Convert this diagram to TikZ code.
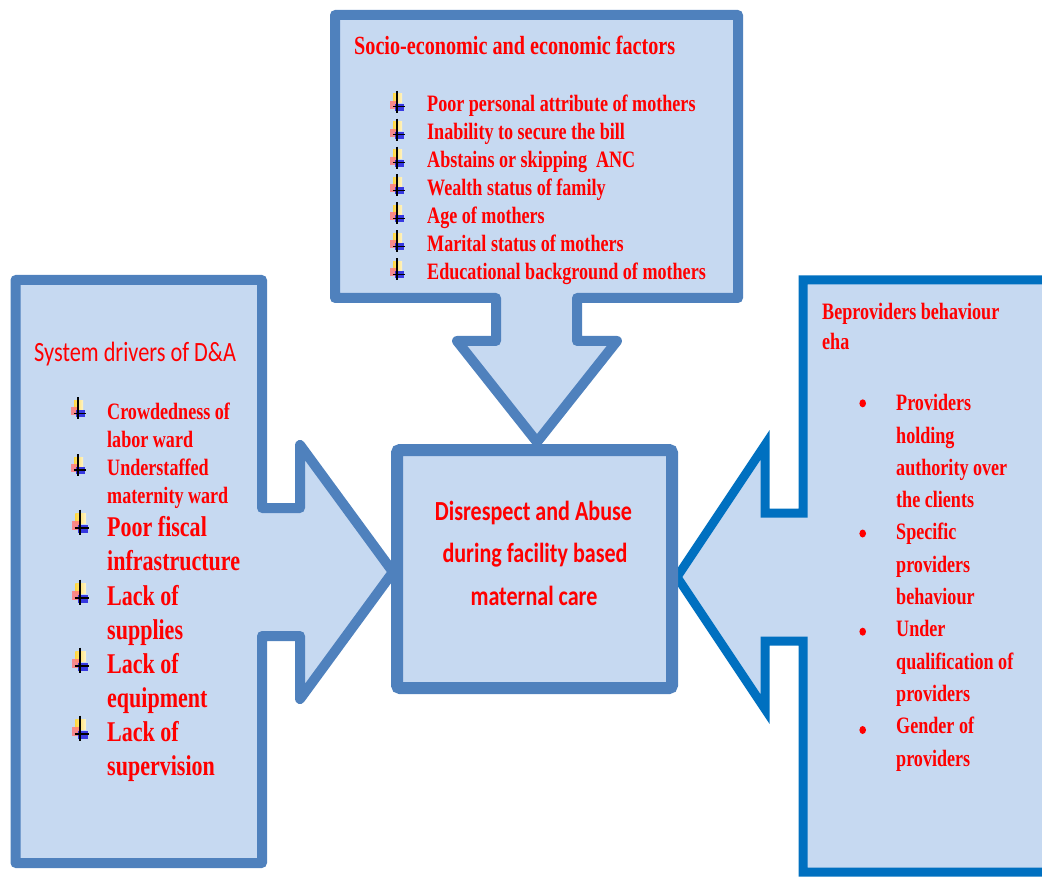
\documentclass[tikz,border=0pt]{standalone}
\usepackage{fontspec}
\setmainfont{Liberation Serif}
\newfontfamily\tnr[FakeStretch=0.77]{Liberation Serif}
\newfontfamily\calb[FakeStretch=0.8]{Carlito}
\definecolor{boxfill}{HTML}{C6D9F1}
\definecolor{boxline}{HTML}{4F81BD}
\definecolor{boxlinedark}{HTML}{0070C0}
\definecolor{txtred}{HTML}{FF0000}
\definecolor{bulyel}{HTML}{FFD740}
\definecolor{bulyelpale}{HTML}{FFF4C8}
\definecolor{bulpink}{HTML}{FF7C7C}
\definecolor{bulblue}{HTML}{2828E0}
\tikzset{
  arrbul/.pic={
    \shade[left color=bulyel, right color=bulyelpale] (-4,-13) rectangle (5,-4);
    \fill[bulpink, opacity=0.85] (-7,-6) rectangle (-1,2);
    \fill[bulblue, opacity=0.9] (-2,-3) rectangle (7,4);
    \draw[black, line width=1.2pt] (0,-16) -- (0,6);
    \draw[black, line width=1.2pt] (-4,0) -- (8,0);
  },
  callout/.style={fill=boxfill, draw=boxline, line width=10pt, line join=round},
  calloutdark/.style={fill=boxfill, draw=boxlinedark, line width=9pt, line join=miter},
  centerbox/.style={fill=boxfill, draw=boxline, line width=12pt, rounded corners=3pt,
    minimum width=275pt, minimum height=238pt, inner sep=0pt},
  txtbase/.style={anchor=base west, inner sep=0pt, text=txtred},
  itemtxt/.style={txtbase, font=\fontsize{23.5}{28}\tnr\bfseries},
  bigtxt/.style={txtbase, font=\fontsize{28.6}{34}\tnr\bfseries},
  toptitle/.style={txtbase, font=\fontsize{26.2}{30}\tnr\bfseries},
  lefttitle/.style={txtbase, font=\fontsize{27.9}{34}\calb},
  centertxt/.style={anchor=base, inner sep=0pt, text=txtred, font=\fontsize{27.6}{32}\calb\bfseries},
  reddot/.style={fill=txtred}
}
\begin{document}
\begin{tikzpicture}[x=1pt,y=-1pt]
\useasboundingbox (0,0) rectangle (1042,877);
\clip (0,0) rectangle (1042,877);

% top callout (socio-economic)
\draw[callout] (335,15) -- (738,15) -- (738,298) -- (577,298) -- (577,341) -- (617,341)
  -- (537,442) -- (457,341) -- (496,341) -- (496,298) -- (335,298) -- cycle;

% left callout (system drivers)
\draw[callout] (15.5,280) -- (262,280) -- (262,508) -- (300,508) -- (300,445) -- (393,572)
  -- (300,699) -- (300,636) -- (262,636) -- (262,863) -- (15.5,863) -- cycle;

% right callout (providers)
\draw[calloutdark] (1060,280) -- (803,280) -- (803,513) -- (765,513) -- (765,445) -- (677,577)
  -- (765,709) -- (765,641) -- (803,641) -- (803,872) -- (1060,872);

% center box
\node[centerbox] (dna) at (534.5,569) {};
\node[centertxt] (dna1) at (533.5,520) {Disrespect and Abuse};
\node[centertxt] (dna2) at (535,562) {during facility based};
\node[centertxt] (dna3) at (534,605) {maternal care};

% top box text
\node[toptitle] (sTitle) at (354,55) {Socio-economic and economic factors};
\foreach \t [count=\i from 0] in {Poor personal attribute of mothers, Inability to secure the bill,
  Abstains or skipping\ \ ANC, Wealth status of family, Age of mothers,
  Marital status of mothers, Educational background of mothers}{
  \pic at (397,{106.7+27.93*\i}) {arrbul};
  \node[itemtxt] (s\i) at (427,{111.7+27.93*\i}) {\t};
}

% left box text
\node[lefttitle] (lTitle) at (34,361.7) {System drivers of D\&A};
\pic at (78,413.3) {arrbul};
\pic at (78,470) {arrbul};
\node[itemtxt] (l1a) at (107,420) {Crowdedness of};
\node[itemtxt] (l1b) at (107,447.5) {labor ward};
\node[itemtxt] (l2a) at (107,475.5) {Understaffed};
\node[itemtxt] (l2b) at (107,503) {maternity ward};
\foreach \y in {528,598,666,734}{
  \pic[scale=1.15] at (80,\y) {arrbul};
}
\node[bigtxt] (l3a) at (107,536.7) {Poor fiscal};
\node[bigtxt] (l3b) at (107,570.5) {infrastructure};
\node[bigtxt] (l4a) at (107,605) {Lack of};
\node[bigtxt] (l4b) at (107,639) {supplies};
\node[bigtxt] (l5a) at (107,673) {Lack of};
\node[bigtxt] (l5b) at (107,707) {equipment};
\node[bigtxt] (l6a) at (107,741) {Lack of};
\node[bigtxt] (l6b) at (107,775) {supervision};

% right box text
\node[itemtxt] (rTitle1) at (822,319.3) {Beproviders behaviour};
\node[itemtxt] (rTitle2) at (822,350) {eha};
\foreach \y in {403.3,533.5,631.7,730}{
  \fill[reddot] (862.7,\y) ellipse [x radius=3.3pt, y radius=4pt];
}
\foreach \t [count=\i from 0] in {Providers, holding, authority over, the clients,
  Specific, providers, behaviour, Under, qualification of, providers, Gender of, providers}{
  \node[itemtxt] (r\i) at (896,{410.7+32.3*\i}) {\t};
}
\end{tikzpicture}
\end{document}
